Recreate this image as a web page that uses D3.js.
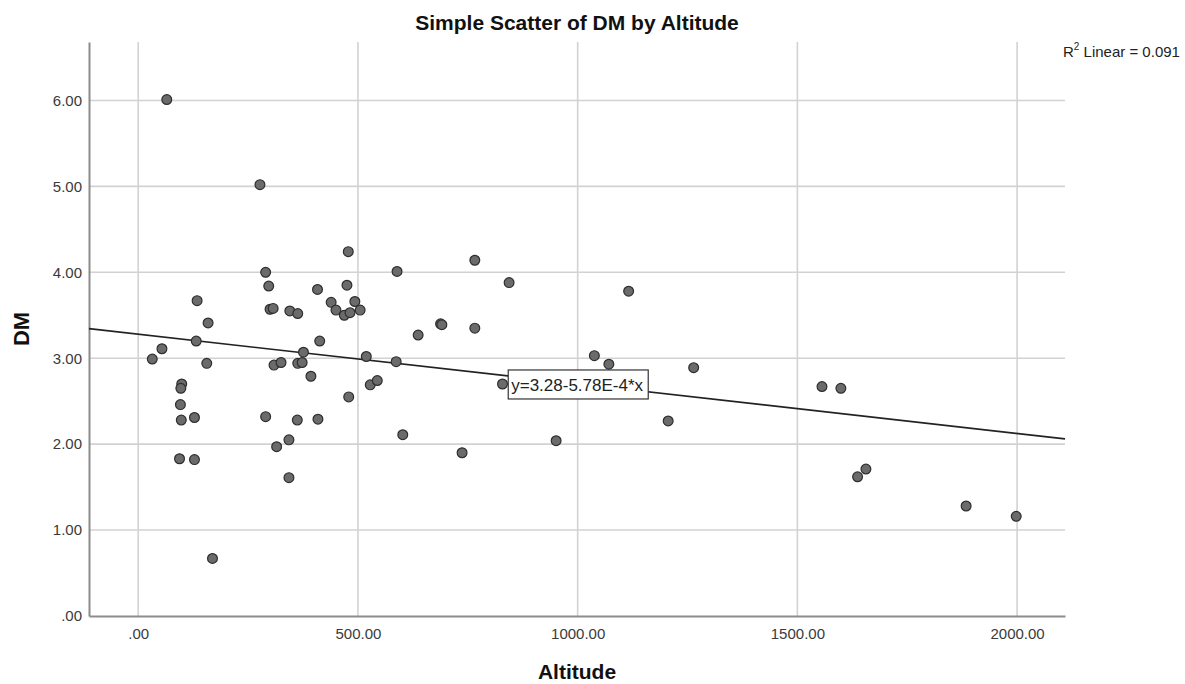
<!DOCTYPE html>
<html>
<head>
<meta charset="utf-8">
<script src="https://cdn.jsdelivr.net/npm/d3@7"></script>
<style>
    body { margin: 0; background: #fff; }
    #chart-container { width: 1185px; height: 684px; }
    text { font-family: "Liberation Sans", Arial, sans-serif; }
</style>
</head>
<body>
<div id="chart-container"></div>
<script>
// Values
const altitude = [65, 277, 478, 290, 589, 297, 408, 475, 134, 439, 493, 300, 307, 345, 363,
    450, 469, 482, 505, 159, 637, 132, 413, 54, 32, 376, 519, 587, 156, 309, 325, 363, 373,
    393, 99, 97, 528, 544, 96, 479, 98, 128, 290, 362, 409, 602, 315, 343, 94, 128, 343, 169,
    766, 844, 688, 691, 766, 1116, 1038, 1071, 1264, 829, 1206, 951, 737, 1556, 1599, 1637,
    1656, 1884, 1998];
const dm = [6.01, 5.02, 4.24, 4.00, 4.01, 3.84, 3.80, 3.85, 3.67, 3.65, 3.66, 3.57, 3.58, 3.55, 3.52,
    3.56, 3.50, 3.53, 3.56, 3.41, 3.27, 3.20, 3.20, 3.11, 2.99, 3.07, 3.02, 2.96, 2.94, 2.92, 2.95, 2.94, 2.95,
    2.79, 2.70, 2.65, 2.69, 2.74, 2.46, 2.55, 2.28, 2.31, 2.32, 2.28, 2.29, 2.11, 1.97, 2.05, 1.83, 1.82, 1.61, 0.67,
    4.14, 3.88, 3.40, 3.39, 3.35, 3.78, 3.03, 2.93, 2.89, 2.70, 2.27, 2.04, 1.90, 2.67, 2.65, 1.62,
    1.71, 1.28, 1.16];

const xTicks = [0, 500, 1000, 1500, 2000];
const yTicks = [0, 1, 2, 3, 4, 5, 6];

// Fit line given in the chart
const intercept = 3.28;
const slope = -5.78e-4;
const rSquared = 0.091;

const points = altitude.map((a, i) => ({ x: a, y: dm[i] }));

const containerWidth = 1185;
const containerHeight = 684;
const margin = { top: 42, right: 120, bottom: 68, left: 89 };
const width = containerWidth - margin.left - margin.right;
const height = containerHeight - margin.top - margin.bottom;

const svg = d3.select("#chart-container").append("svg")
    .attr("width", containerWidth)
    .attr("height", containerHeight);

const g = svg.append("g")
    .attr("transform", "translate(" + margin.left + "," + margin.top + ")");

const x = d3.scaleLinear().domain([-112, 2109]).range([0, width]);
const y = d3.scaleLinear().domain([0, 6.68]).range([height, 0]);

// Grid lines
g.selectAll(".vgrid")
    .data(xTicks)
    .enter().append("line")
    .attr("x1", d => x(d)).attr("x2", d => x(d))
    .attr("y1", 0).attr("y2", height)
    .attr("stroke", "#d2d2d2")
    .attr("stroke-width", 1.6);

g.selectAll(".hgrid")
    .data(yTicks.slice(1))
    .enter().append("line")
    .attr("x1", 0).attr("x2", width)
    .attr("y1", d => y(d)).attr("y2", d => y(d))
    .attr("stroke", "#d2d2d2")
    .attr("stroke-width", 1.6);

// Axes, no tick marks
const fmt = d => d === 0 ? ".00" : d3.format(".2f")(d);

const xAxis = g.append("g")
    .attr("transform", "translate(0," + height + ")")
    .call(d3.axisBottom(x).tickValues(xTicks).tickSize(0).tickPadding(12).tickFormat(fmt));

const yAxis = g.append("g")
    .call(d3.axisLeft(y).tickValues(yTicks).tickSize(0).tickPadding(7).tickFormat(fmt));

[xAxis, yAxis].forEach(ax => {
    ax.select(".domain").attr("stroke", "#8c8c8c").attr("stroke-width", 2);
    ax.selectAll("text")
        .attr("fill", "#3a3a3a")
        .style("font-size", "15px")
        .style("font-family", "'Liberation Sans', Arial, sans-serif");
});

// Regression line across the plot
const xDomain = x.domain();
g.append("line")
    .attr("x1", x(xDomain[0])).attr("y1", y(intercept + slope * xDomain[0]))
    .attr("x2", x(xDomain[1])).attr("y2", y(intercept + slope * xDomain[1]))
    .attr("stroke", "#222")
    .attr("stroke-width", 1.6);

// Points
g.selectAll(".dot")
    .data(points)
    .enter().append("circle")
    .attr("class", "dot")
    .attr("cx", d => x(d.x))
    .attr("cy", d => y(d.y))
    .attr("r", 4.9)
    .attr("fill", "#6b6b6b")
    .attr("stroke", "#2e2e2e")
    .attr("stroke-width", 1.2);

// Equation label on the line
const labelAlt = 842;
const label = g.append("g")
    .attr("transform", "translate(" + x(labelAlt) + "," + (y(intercept + slope * labelAlt) - 6) + ")");
label.append("rect")
    .attr("width", 140).attr("height", 29)
    .attr("fill", "#fff")
    .attr("stroke", "#333")
    .attr("stroke-width", 1.2);
label.append("text")
    .attr("x", 3).attr("y", 21)
    .style("font-size", "17px")
    .attr("fill", "#222")
    .text("y=3.28-5.78E-4*x");

// Title
svg.append("text")
    .attr("x", margin.left + width / 2)
    .attr("y", 30)
    .attr("text-anchor", "middle")
    .style("font-size", "21px")
    .style("font-weight", "bold")
    .attr("fill", "#111")
    .text("Simple Scatter of DM by Altitude");

// R squared note
const r2 = svg.append("text")
    .attr("x", 1063)
    .attr("y", 57)
    .style("font-size", "15px")
    .attr("fill", "#222");
r2.append("tspan").text("R");
r2.append("tspan").attr("dy", -7).style("font-size", "10px").text("2");
r2.append("tspan").attr("dy", 7).text(" Linear = " + d3.format(".3f")(rSquared));

// Axis titles
svg.append("text")
    .attr("x", margin.left + width / 2)
    .attr("y", 679)
    .attr("text-anchor", "middle")
    .style("font-size", "21px")
    .style("font-weight", "bold")
    .attr("fill", "#111")
    .text("Altitude");

svg.append("text")
    .attr("transform", "translate(29," + (margin.top + height / 2) + ") rotate(-90)")
    .attr("text-anchor", "middle")
    .style("font-size", "22px")
    .style("font-weight", "bold")
    .attr("fill", "#111")
    .text("DM");
</script>
</body>
</html>
